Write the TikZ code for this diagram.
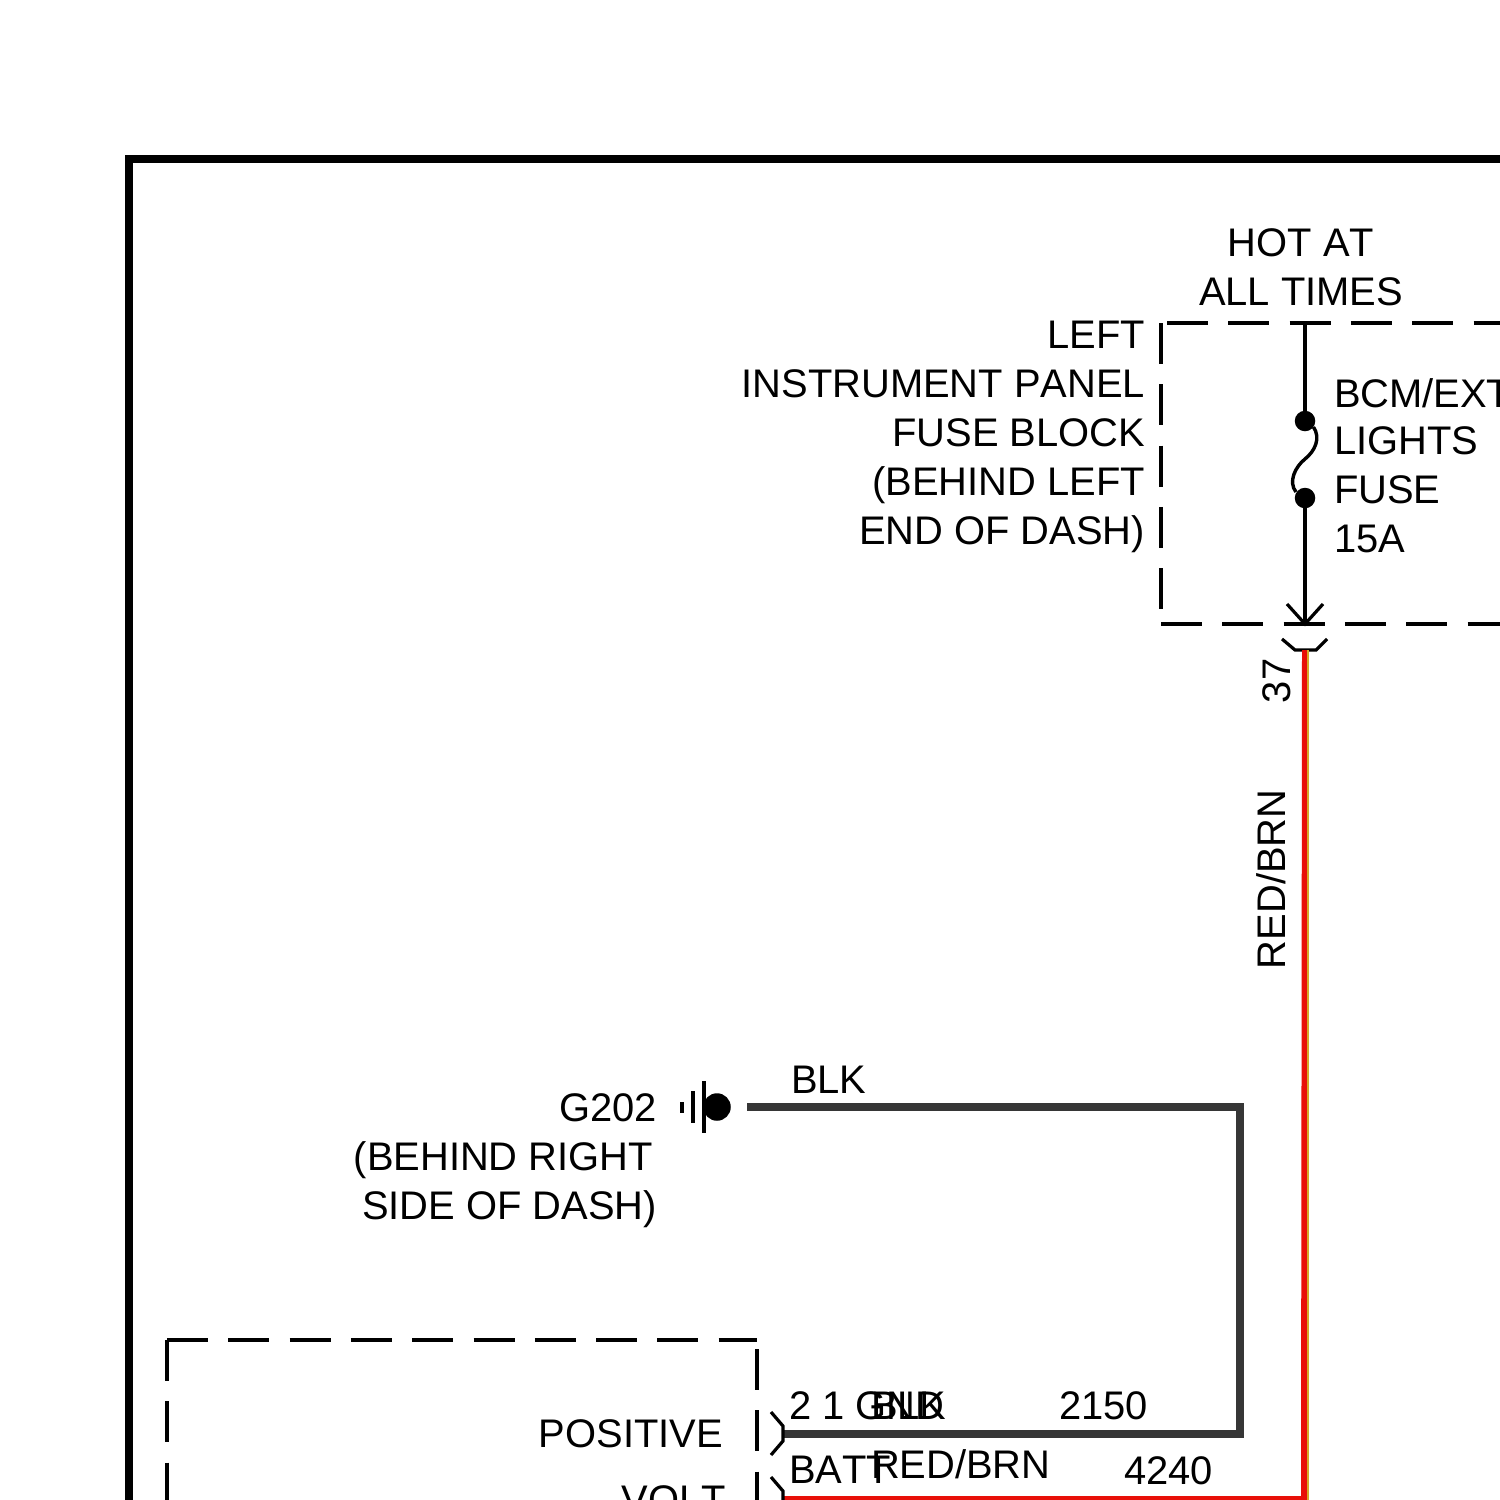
\documentclass[tikz,border=0pt]{standalone}
\usepackage{fontspec}
\setmainfont[Kerning=Off]{Liberation Sans}
\definecolor{wirered}{RGB}{232,16,8}
\definecolor{wireyel}{RGB}{214,170,40}
\definecolor{wireblk}{RGB}{54,54,54}
\tikzset{
  lbl/.style={inner sep=0pt,outer sep=0pt,font=\fontsize{39.9}{49}\selectfont,text=black},
  lblR/.style={lbl,anchor=base east,align=right},
  lblL/.style={lbl,anchor=base west,align=left},
  lblC/.style={lbl,anchor=base,align=center},
  lblV/.style={lbl,anchor=base west,rotate=90},
  dashbox/.style={line width=3.4pt,draw=black,dash pattern=on 41pt off 20.3pt},
  thin wire/.style={line width=3.4pt,draw=black},
  conn/.style={line width=3.2pt,draw=black,line join=miter},
  dotnode/.style={circle,fill=black,draw=none,inner sep=0pt},
  blkwire/.style={line width=8pt,draw=wireblk,line join=miter},
  redwire/.style={line width=6pt,draw=wirered},
  redwireh/.style={line width=8pt,draw=wirered},
  yelwire/.style={line width=2pt,draw=wireyel}
}
\begin{document}
\begin{tikzpicture}[x=1pt,y=-1pt]
\clip (0,0) rectangle (1500,1500);
\fill[white] (0,0) rectangle (1500,1500);
% outer frame
\draw[line width=8pt,black,line join=miter] (129,1520) -- (129,159) -- (1520,159);
% fuse block
\draw[dashbox] (1161,323) -- (1161,612);
\draw[dashbox] (1167,323) -- (1520,323);
\draw[dashbox] (1161,624) -- (1520,624);
% lower-left module
\draw[dashbox] (167,1340) -- (167,1520);
\draw[dashbox] (167,1340) -- (757,1340);
\draw[dashbox] (757,1349) -- (757,1520);
% fuse
\coordinate (ftop) at (1305,323);
\node[dotnode,minimum size=20.5pt] (f1) at (1305,421) {};
\node[dotnode,minimum size=20.5pt] (f2) at (1305,498) {};
\coordinate (ftip) at (1305,624);
\draw[thin wire] (ftop) -- (f1);
\draw[thin wire] (f1.east) ++(-2,6) .. controls (1321,438) and (1315,451) .. (1305,459)
   .. controls (1295,467) and (1288,482) .. (1296,492);
\draw[thin wire] (f2) -- (ftip);
\draw[conn] (1287,604) -- (ftip) -- (1323,604);
% connector cavity under fuse block
\coordinate (c37) at (1305,650);
\draw[conn] (1282,639) -- (1295,650) -- (1316,650) -- (1327,639);
% red wire
\coordinate (rc) at (1304,1499.7);
\coordinate (rl) at (783,1499.7);
\draw[redwire] (c37) -- (rc);
\draw[redwireh] ([xshift=3pt]rc) -- (rl);
\draw[yelwire] (1308,650) -- (1308,1502);
% ground and black wire
\node[dotnode,minimum size=27.5pt] (gnd) at (717,1107) {};
\draw[line width=3.2pt,black] (704,1081) -- (704,1133);
\draw[line width=3.2pt,black] (693,1091) -- (693,1123);
\draw[line width=3.6pt,black] (682,1102) -- (682,1113);
\coordinate (ba) at (747,1107);
\coordinate (bb) at (1240,1107);
\coordinate (bc) at (1240,1433.7);
\coordinate (bd) at (783,1433.7);
\draw[blkwire] (ba) -- (bb) -- (bc) -- (bd);
% module connectors
\draw[conn] (771,1412) -- (783,1426) -- (783,1441) -- (771,1455);
\draw[conn] (771,1477) -- (783,1491) -- (783,1506) -- (771,1520);
% labels
\node[lblC] (hot) at (1301,305) {HOT AT\\ALL TIMES};
\node[lblR] (ipfb) at (1145,544) {LEFT\\INSTRUMENT PANEL\\FUSE BLOCK\\(BEHIND LEFT\\END OF DASH)};
\node[lblL] (bcm) at (1334,407) {BCM/EXT};
\node[lblL] (lights) at (1334,454) {LIGHTS};
\node[lblL] (fuse) at (1334,503) {FUSE};
\node[lblL] (amp) at (1334,552) {15A};
\node[lblV] (n37) at (1290,703) {37};
\node[lblV] (rb) at (1285,969) {RED/BRN};
\node[lblL] (blk1) at (791,1093) {BLK};
\node[lblR] (g202) at (657,1121) {G202};
\node[lblR] (g2) at (653,1170) {(BEHIND RIGHT};
\node[lblR] (g3) at (657,1219) {SIDE OF DASH)};
\node[lblR] (pos) at (723,1447) {POSITIVE};
\node[lblR] (volt) at (726,1513) {VOLT};
\node[lblL] (pins) at (789,1419) {2 1 GND};
\node[lblL] (blk2) at (871,1419) {BLK};
\node[lblL] (n2150) at (1059,1419) {2150};
\node[lblL] (batt) at (789,1483) {BATT};
\node[lblL] (rb2) at (871,1478) {RED/BRN};
\node[lblL] (n4240) at (1124,1484) {4240};
\end{tikzpicture}
\end{document}
